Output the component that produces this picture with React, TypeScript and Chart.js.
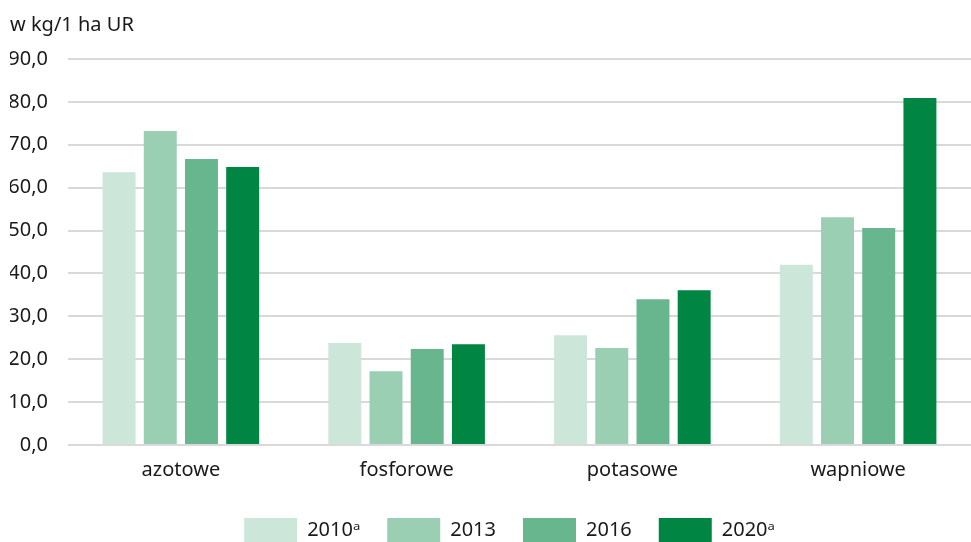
import React, { useEffect, useRef } from "react";
import { Chart, registerables } from "chart.js";

Chart.register(...registerables);

const categories = ["azotowe", "fosforowe", "potasowe", "wapniowe"];
const seriesLabels = ["2010ᵃ", "2013", "2016", "2020ᵃ"];
const values2010 = [63.6, 23.8, 25.6, 42.0];
const values2013 = [73.2, 17.2, 22.6, 53.1];
const values2016 = [66.7, 22.4, 34.0, 50.6];
const values2020 = [64.8, 23.5, 36.1, 80.9];
const colors = ["#cde6da", "#9acfb4", "#68b68e", "#008542"];
const yTitle = "w kg/1 ha UR";

const legendShift = {
  id: "legendShift",
  afterLayout(chart: any) {
    if (chart.legend) {
      chart.legend.left += 19;
      chart.legend.right += 19;
    }
  },
};

export default function App() {
  const ref = useRef<HTMLCanvasElement | null>(null);
  useEffect(() => {
    if (!ref.current) return;
    const font = "'Noto Sans', 'Open Sans', sans-serif";
    const all = [values2010, values2013, values2016, values2020];
    const chart = new Chart(ref.current, {
      type: "bar",
      data: {
        labels: categories,
        datasets: all.map((d, i) => ({
          label: seriesLabels[i],
          data: d,
          backgroundColor: colors[i],
          borderWidth: 0,
          categoryPercentage: 0.73,
          barPercentage: 0.8,
        })),
      },
      plugins: [legendShift],
      options: {
        animation: false,
        responsive: false,
        maintainAspectRatio: false,
        layout: { padding: { left: 10, right: 0, top: 13, bottom: -10 } },
        plugins: {
          title: {
            display: true,
            text: yTitle,
            align: "start",
            color: "#1a1a1a",
            font: { family: font, size: 20, weight: "normal" },
            padding: { top: 0, bottom: 22 },
          },
          legend: {
            position: "bottom",
            labels: {
              boxWidth: 53,
              boxHeight: 24,
              padding: 27,
              color: "#1a1a1a",
              font: { family: font, size: 20 },
            },
          },
          tooltip: { enabled: false },
        },
        scales: {
          x: {
            grid: { display: false, drawTicks: false },
            border: { display: false },
            ticks: { color: "#1a1a1a", font: { family: font, size: 20 }, padding: 13 },
            afterFit: (s: any) => {
              s.height = 46;
            },
          },
          y: {
            min: 0,
            max: 90,
            ticks: {
              stepSize: 10,
              color: "#1a1a1a",
              padding: 20,
              font: { family: font, size: 20 },
              callback: (v: any) => Number(v).toFixed(1).replace(".", ","),
            },
            grid: { color: "#d9d9d9", lineWidth: 2, drawTicks: false },
            border: { display: false },
            afterFit: (s: any) => {
              s.width = 58;
            },
          },
        },
      },
    });
    return () => chart.destroy();
  }, []);
  return (
    <div style={{ position: "fixed", left: 0, top: 0, width: 971, height: 542, background: "#fff" }}>
      <canvas ref={ref} width={971} height={542} />
    </div>
  );
}
